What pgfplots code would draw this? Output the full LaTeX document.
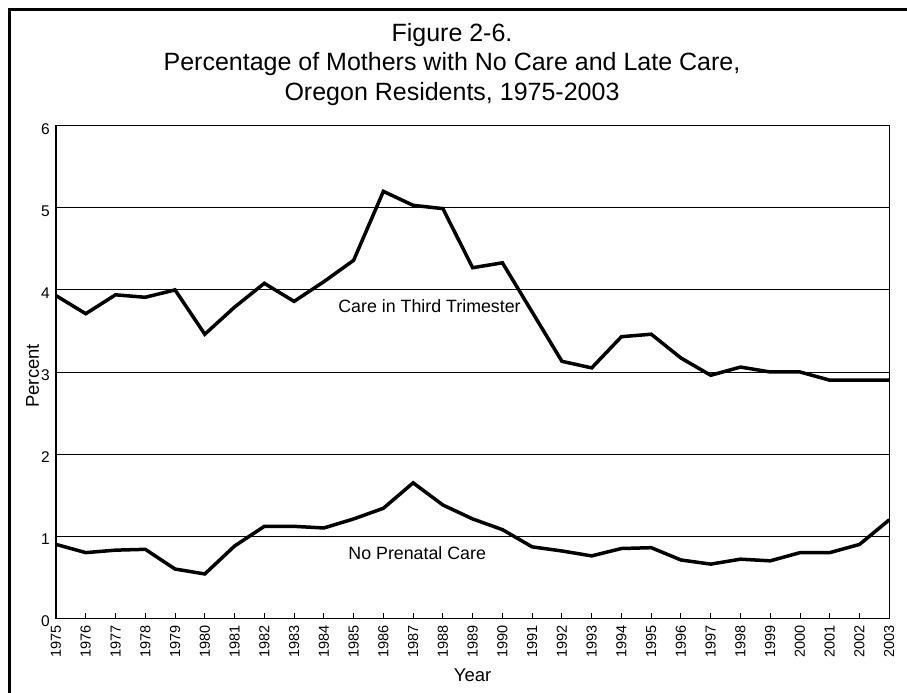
\documentclass[border=0pt]{standalone}
\usepackage{pgfplots}
\pgfplotsset{compat=1.18}
\usepackage{fontspec}
\setmainfont{Liberation Sans}
\pgfplotstableread{
year third none
1975 3.93 0.90
1976 3.71 0.80
1977 3.94 0.83
1978 3.91 0.84
1979 4.00 0.60
1980 3.46 0.54
1981 3.79 0.88
1982 4.08 1.12
1983 3.86 1.12
1984 4.10 1.10
1985 4.36 1.21
1986 5.20 1.34
1987 5.03 1.65
1988 4.99 1.38
1989 4.27 1.21
1990 4.33 1.08
1991 3.73 0.87
1992 3.13 0.82
1993 3.05 0.76
1994 3.43 0.85
1995 3.46 0.86
1996 3.17 0.71
1997 2.96 0.66
1998 3.06 0.72
1999 3.00 0.70
2000 3.00 0.80
2001 2.90 0.80
2002 2.90 0.90
2003 2.90 1.20
}\datatable
\begin{document}
\begin{tikzpicture}[x=1bp,y=1bp]
\path[use as bounding box] (0,0) rectangle (907,693);
\fill[black] (7.5,0) rectangle (10.5,684.5);
\fill[black] (7.5,681.5) rectangle (890,684.5);
\fill[black] (890,681.5) rectangle (907,684.5);
\node[anchor=base,font=\fontsize{25bp}{30bp}\selectfont] at (452,651) {Figure 2-6.};
\node[anchor=base,font=\fontsize{25bp}{30bp}\selectfont] at (452,622) {Percentage of Mothers with No Care and Late Care,};
\node[anchor=base,font=\fontsize{25bp}{30bp}\selectfont] at (452,592.5) {Oregon Residents, 1975-2003};
\begin{axis}[
  at={(56bp,74.7bp)}, anchor=south west,
  scale only axis, width=833.3bp, height=492.6bp,
  xmin=1975, xmax=2003, ymin=0, ymax=6,
  xtick={1975,...,2003},
  xticklabels={1975,1976,1977,1978,1979,1980,1981,1982,1983,1984,1985,1986,1987,1988,1989,1990,1991,1992,1993,1994,1995,1996,1997,1998,1999,2000,2001,2002,2003},
  ytick={0,1,2,3,4,5,6},
  xtick pos=left, ytick pos=left,
  tick align=inside,
  major tick length=5bp,
  ytick style={draw=none},
  xtick style={black, line width=0.9bp},
  ymajorgrids,
  grid style={black, line width=0.9bp},
  axis line style={black, line width=1.2bp},
  /pgf/number format/assume math mode=true,
  yticklabel style={font=\fontsize{15.5bp}{18bp}\selectfont, anchor=east, inner sep=0pt, xshift=-6bp, yshift=-3bp},
  xticklabel style={font=\fontsize{14.5bp}{17bp}\selectfont, yshift=-7bp, rotate=90, anchor=east, inner sep=0pt},
  xlabel={Year}, ylabel={Percent},
  xlabel style={font=\fontsize{18.5bp}{22bp}\selectfont, at={(axis description cs:0.5,0)}, anchor=center, yshift=-57.4bp},
  ylabel style={font=\fontsize{18.5bp}{22bp}\selectfont, at={(axis description cs:0,0.5)}, anchor=center, xshift=-3.8bp, yshift=23.4bp},
  clip=false,
]
\addplot[black, line width=3.5bp, line join=miter, miter limit=3] table[x=year,y=third] {\datatable};
\addplot[black, line width=3.5bp, line join=miter, miter limit=3] table[x=year,y=none] {\datatable};
\node[anchor=west, font=\fontsize{17.8bp}{21bp}\selectfont, inner sep=0pt] at (axis cs:1984.48,3.80) {Care in Third Trimester};
\node[anchor=west, font=\fontsize{17.8bp}{21bp}\selectfont, inner sep=0pt] at (axis cs:1984.82,0.79) {No Prenatal Care};
\end{axis}
\end{tikzpicture}
\end{document}
